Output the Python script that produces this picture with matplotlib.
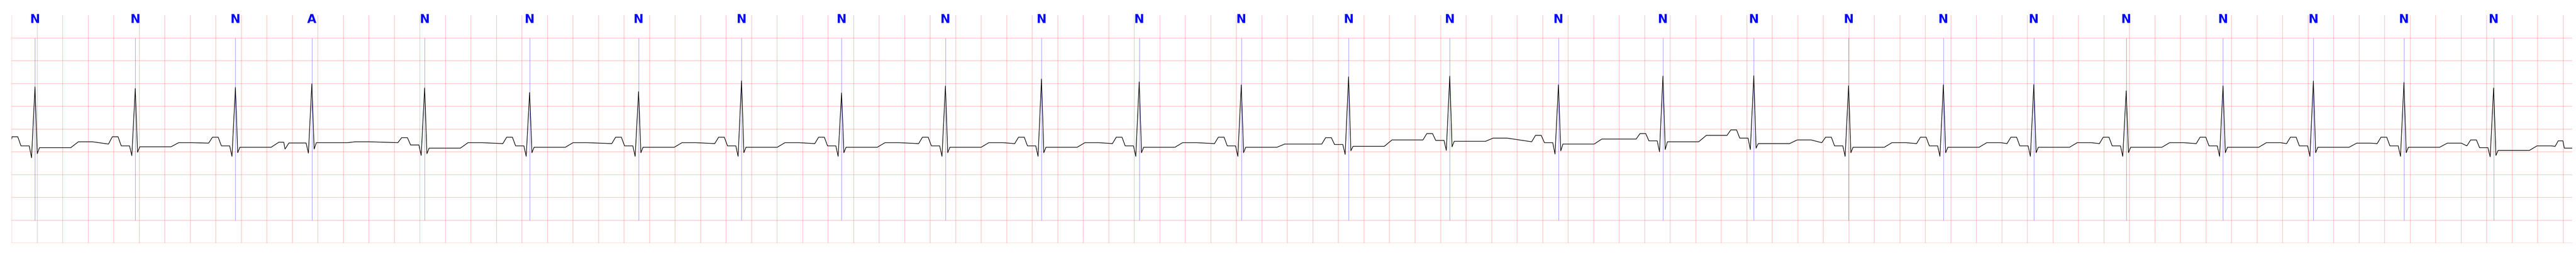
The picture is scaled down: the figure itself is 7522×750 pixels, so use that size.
"""
ecg_strip.py

20 s single-lead ECG strip on red grid paper with beat annotations.
Output: out.png (7522x750)
"""

import matplotlib
matplotlib.use("Agg")
import matplotlib.pyplot as plt
import numpy as np

# beat annotations (R-peak time in s, label)
R_TIME = [0.183, 0.969, 1.754, 2.353, 3.237, 4.060, 4.914, 5.721, 6.505, 7.319,
          8.072, 8.838, 9.638, 10.479, 11.272, 12.124, 12.943, 13.655, 14.398,
          15.141, 15.850, 16.574, 17.333, 18.041, 18.751, 19.454]
LABELS = ["N", "N", "N", "A"] + ["N"] * 22

# per-beat levels (mV)
R_AMP = [0.926, 0.889, 0.914, 0.990, 0.900, 0.801, 0.821, 1.059, 0.793, 0.944,
         1.096, 1.034, 0.968, 1.145, 1.160, 0.971, 1.162, 1.171, 0.951, 0.971,
         0.976, 0.838, 0.949, 1.054, 1.021, 0.900]
Q_AMP = [-0.63, -0.585, -0.60, -0.53, -0.58, -0.60, -0.60, -0.60, -0.60, -0.60,
         -0.60, -0.60, -0.60, -0.556, -0.47, -0.55, -0.50, -0.45, -0.60, -0.60,
         -0.60, -0.60, -0.60, -0.60, -0.60, -0.61]
S_AMP = [-0.54, -0.51, -0.52, -0.44, -0.54, -0.52, -0.52, -0.52, -0.52, -0.52,
         -0.52, -0.52, -0.52, -0.477, -0.39, -0.48, -0.45, -0.42, -0.52, -0.52,
         -0.52, -0.52, -0.52, -0.52, -0.52, -0.58]
TP_LEVEL = [-0.22, -0.33, -0.31, -0.44, -0.30, -0.32, -0.32, -0.32, -0.32, -0.32,
            -0.32, -0.32, -0.32, -0.33, -0.24, -0.28, -0.22, -0.14, -0.30, -0.32,
            -0.32, -0.32, -0.32, -0.32, -0.32, -0.37]
P_LEVEL = [-0.17, -0.17, -0.18, -0.307, -0.19, -0.18, -0.18, -0.18, -0.18, -0.18,
           -0.18, -0.18, -0.18, -0.19, -0.10, -0.14, -0.10, -0.02, -0.18, -0.18,
           -0.18, -0.18, -0.18, -0.18, -0.18, -0.24]
PR_LEVEL = [-0.37, -0.37, -0.37, -0.307, -0.35, -0.37, -0.37, -0.37, -0.37, -0.37,
            -0.37, -0.37, -0.37, -0.34, -0.25, -0.30, -0.26, -0.20, -0.37, -0.37,
            -0.37, -0.37, -0.37, -0.37, -0.37, -0.41]
ST_LEVEL = [-0.41, -0.39, -0.40, -0.30, -0.42, -0.40, -0.40, -0.40, -0.40, -0.40,
            -0.40, -0.40, -0.40, -0.38, -0.27, -0.33, -0.28, -0.32, -0.40, -0.40,
            -0.40, -0.40, -0.40, -0.40, -0.40, -0.47]
T_LEVEL = [-0.28, -0.30, -0.29, -0.28, -0.30, -0.30, -0.30, -0.30, -0.30, -0.30,
           -0.30, -0.30, -0.33, -0.24, -0.20, -0.22, -0.14, -0.24, -0.30, -0.30,
           -0.30, -0.30, -0.30, -0.31, -0.31, -0.37]

# waveform landmarks relative to the R peak (s)
OFFSETS = [-0.21, -0.18, -0.135, -0.11, -0.045, -0.027, 0.0, 0.018, 0.035, 0.28, 0.34, 0.45]

# trace before the first and after the last beat
HEAD_T, HEAD_V = [0.0], [-0.22]
TAIL_T = [19.936, 19.960, 19.997, 20.008, 20.07]
TAIL_V = [-0.38, -0.26, -0.26, -0.42, -0.42]

X_MAX = 20.07
Y_MIN, Y_MAX = -2.5, 2.5


def build_trace():
    ts, vs = list(HEAD_T), list(HEAD_V)
    n = len(R_TIME)
    for i in range(n):
        levels = [TP_LEVEL[i], P_LEVEL[i], P_LEVEL[i], PR_LEVEL[i], PR_LEVEL[i],
                  Q_AMP[i], R_AMP[i], S_AMP[i], ST_LEVEL[i], ST_LEVEL[i],
                  T_LEVEL[i], T_LEVEL[i]]
        limit = R_TIME[i + 1] - 0.22 if i + 1 < n else TAIL_T[0] - 0.01
        for off, lev in zip(OFFSETS, levels):
            t = min(R_TIME[i] + off, limit)
            if t <= ts[-1]:
                continue
            ts.append(t)
            vs.append(lev)
    ts += TAIL_T
    vs += TAIL_V
    return np.array(ts), np.array(vs)


def main():
    fig = plt.figure(figsize=(75.22, 7.5), dpi=100)
    ax = fig.add_axes([34 / 7522, 41 / 750, 7477 / 7522, 665 / 750])
    ax.set_xlim(0, X_MAX)
    ax.set_ylim(Y_MIN, Y_MAX)
    ax.axis("off")

    for x in np.arange(0, X_MAX, 0.2):
        ax.axvline(x, color="red", alpha=0.25, linewidth=1.2, zorder=1)
    for y in np.arange(Y_MIN, Y_MAX, 0.5):
        ax.axhline(y, color="red", alpha=0.25, linewidth=1.2, zorder=1)

    for t, lab in zip(R_TIME, LABELS):
        ax.vlines(t, -2.0, 2.0, color="blue", alpha=0.5, linewidth=0.8, zorder=2)
        ax.text(t, 2.4, lab, color="blue", fontsize=25, fontweight="bold",
                ha="center", va="center", zorder=4)

    ts, vs = build_trace()
    ax.plot(ts, vs, color="black", linewidth=1.3, zorder=3)

    fig.savefig("out.png", dpi=100)
    plt.close(fig)


if __name__ == "__main__":
    main()
